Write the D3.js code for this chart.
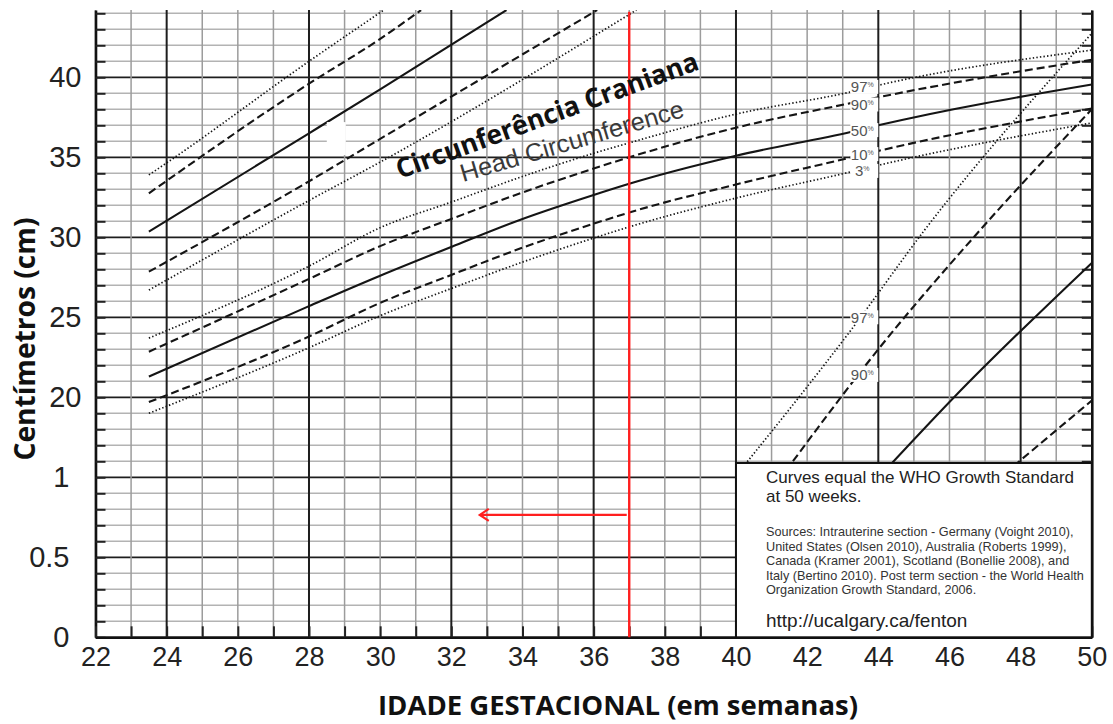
<!DOCTYPE html>
<html>
<head>
<meta charset="utf-8">
<script src="https://cdn.jsdelivr.net/npm/d3@7"></script>
<style>
  body { margin: 0; background: #fff; }
  svg { display: block; font-family: "Liberation Sans", Arial, sans-serif; }
</style>
</head>
<body>
<svg id="chart"></svg>
<script>
const fullWidth = 1113;
const fullHeight = 724;

// tick labels
const xTickWeeks = [22, 24, 26, 28, 30, 32, 34, 36, 38, 40, 42, 44, 46, 48, 50];
const yUpperTicks = [20, 25, 30, 35, 40];
const yLowerTicks = [5, 10, 15];          // where the 0 - 1 scale sits on the cm grid
const yLowerLabels = ["0", "0.5", "1"];

// head circumference (cm), preterm section joined to the WHO part
const hcWeeks = [23.5, 28, 30, 32, 34, 36, 37, 40, 43.25, 44, 50];
const hc97 = [23.7, 28.2, 30.6, 32.2, 33.8, 35.25, 35.9, 37.7, 39.1, 39.5, 41.7];
const hc90 = [22.85, 27.4, 29.45, 31.15, 32.8, 34.3, 35.0, 36.85, 38.4, 38.75, 41.1];
const hc50 = [21.3, 25.7, 27.6, 29.4, 31.15, 32.65, 33.35, 35.1, 36.6, 37.0, 39.55];
const hc10 = [19.7, 23.8, 25.9, 27.65, 29.35, 30.85, 31.55, 33.3, 35.0, 35.4, 38.05];
const hc3  = [19.0, 23.1, 25.1, 26.8, 28.45, 29.95, 30.65, 32.45, 34.1, 34.5, 37.15];

// length curves top left, they run off the top of the sheet
const len97 = [[23.5, 33.9], [24, 34.65], [28, 41.0], [30.1, 44.2]];
const len90 = [[23.5, 32.75], [28, 39.6], [30, 42.4], [31.15, 44.2]];
const len50 = [[23.5, 30.35], [28, 36.5], [30, 39.25], [33.55, 44.2]];
const len10 = [[23.5, 27.85], [28, 33.5], [30, 36.15], [36.1, 44.2]];
const len3  = [[23.5, 26.7], [28, 32.3], [30, 34.7], [37.2, 44.2]];

// steep curves on the right (start hidden under the note box)
const steep97 = [[40.0, 15.1], [43.3, 24.4], [45.3, 30.45], [50, 42.75]];
const steep90 = [[41.4, 15.4], [44.0, 23.0], [46.86, 30.45], [50, 38.0]];
const steep50 = [[44.2, 15.45], [46.15, 20.05], [50, 28.4]];
const steep10 = [[47.8, 15.7], [50, 19.8]];

// percentile labels
const hcLabelNames = ["97", "90", "50", "10", "3"];
const hcLabelValues = [39.4, 38.3, 36.7, 35.2, 34.15];
const steepLabelNames = ["97", "90"];
const steepLabelValues = [25.0, 21.4];
const labelWeek = 43.55;

// red marker at 37 weeks and the arrow (on the 0 - 1 scale)
const markWeek = 37;
const arrowStart = 36.93;
const arrowEnd = 32.8;
const arrowLevel = 0.765;

const noteLines = ["Curves equal the WHO Growth Standard", "at 50 weeks."];
const sourceLines = [
  "Sources: Intrauterine section - Germany (Voight 2010),",
  "United States (Olsen 2010), Australia (Roberts 1999),",
  "Canada (Kramer 2001), Scotland (Bonellie 2008), and",
  "Italy (Bertino 2010). Post term section - the World Health",
  "Organization Growth Standard, 2006."
];
const noteUrl = "http://ucalgary.ca/fenton";

const lowerToCm = d => 5 + d * 10;

const x = d3.scaleLinear().domain([22, 50]).range([95.5, 1091.8]);
const y = d3.scaleLinear().domain([5, 44.2]).range([637.3, 10.1]);

const svg = d3.select('#chart')
  .attr('width', fullWidth)
  .attr('height', fullHeight);

svg.append('rect').attr('width', fullWidth).attr('height', fullHeight).attr('fill', '#fff');

svg.append('clipPath').attr('id', 'plot')
  .append('rect')
  .attr('x', x(22)).attr('y', y(44.2))
  .attr('width', x(50) - x(22)).attr('height', y(5) - y(44.2));

// grid
const grid = svg.append('g');
const hLines = d3.range(5, 45).sort((a, b) => (a % 5 === 0) - (b % 5 === 0));
grid.selectAll('.h').data(hLines).join('line')
  .attr('x1', x(22)).attr('x2', x(50))
  .attr('y1', d => y(d)).attr('y2', d => y(d))
  .attr('stroke', d => d % 5 === 0 ? '#1e1e1e' : '#b3b3b3')
  .attr('stroke-width', d => d % 5 === 0 ? 1.8 : 1.5);

const vLines = d3.range(22, 51).sort((a, b) => (a % 4 === 0) - (b % 4 === 0));
grid.selectAll('.v').data(vLines).join('line')
  .attr('x1', d => x(d)).attr('x2', d => x(d))
  .attr('y1', y(44.2)).attr('y2', y(5))
  .attr('stroke', d => d % 4 === 0 ? '#1e1e1e' : '#9c9c9c')
  .attr('stroke-width', d => d % 4 === 0 ? 2 : 1.5);

// axes: inner ticks
svg.append('g')
  .attr('transform', `translate(${x(22)},0)`)
  .call(d3.axisLeft(y).tickValues(d3.range(5, 45)).tickSize(-10).tickSizeOuter(0).tickFormat(''))
  .call(g => g.selectAll('line').attr('stroke', '#222').attr('stroke-width', 2));

svg.append('g')
  .attr('transform', `translate(${x(50)},0)`)
  .call(d3.axisRight(y).tickValues(d3.range(5, 45)).tickSize(-10).tickSizeOuter(0).tickFormat(''))
  .call(g => g.selectAll('line').attr('stroke', '#222').attr('stroke-width', 2));

svg.append('g')
  .attr('transform', `translate(0,${y(5)})`)
  .call(d3.axisBottom(x).tickValues(d3.range(22, 51)).tickSize(-11).tickSizeOuter(0).tickFormat(''))
  .call(g => g.selectAll('line').attr('stroke', '#222').attr('stroke-width', 2));

svg.selectAll('.domain').attr('stroke', '#111').attr('stroke-width', 2.6);

// tick labels
svg.append('g')
  .attr('transform', `translate(0,${y(5)})`)
  .call(d3.axisBottom(x).tickValues(xTickWeeks).tickSize(0).tickPadding(10))
  .call(g => g.select('.domain').remove())
  .call(g => g.selectAll('text').attr('font-size', 27).attr('fill', '#222')
    .attr('font-family', '"Liberation Sans", Arial, sans-serif'));

svg.append('g')
  .attr('transform', `translate(${x(22)},0)`)
  .call(d3.axisLeft(y).tickValues(yUpperTicks).tickSize(0).tickPadding(14))
  .call(g => g.select('.domain').remove())
  .call(g => g.selectAll('text').attr('font-size', 29).attr('fill', '#222')
    .attr('font-family', '"Liberation Sans", Arial, sans-serif'));

svg.append('g')
  .attr('transform', `translate(${x(22)},0)`)
  .call(d3.axisLeft(y).tickValues(yLowerTicks).tickSize(0).tickPadding(26)
    .tickFormat((d, i) => yLowerLabels[i]))
  .call(g => g.select('.domain').remove())
  .call(g => g.selectAll('text').attr('font-size', 29).attr('fill', '#222')
    .attr('font-family', '"Liberation Sans", Arial, sans-serif'));

// curves
const line = d3.line()
  .x(d => x(d[0]))
  .y(d => y(d[1]))
  .curve(d3.curveMonotoneX);

const dashFor = { solid: null, dashed: '8,4', dotted: '1.4,2.2' };
const zip = vals => hcWeeks.map((w, i) => [w, vals[i]]);

const curves = [
  [zip(hc97), 'dotted'], [zip(hc90), 'dashed'], [zip(hc50), 'solid'], [zip(hc10), 'dashed'], [zip(hc3), 'dotted'],
  [len97, 'dotted'], [len90, 'dashed'], [len50, 'solid'], [len10, 'dashed'], [len3, 'dotted'],
  [steep97, 'dotted'], [steep90, 'dashed'], [steep50, 'solid'], [steep10, 'dashed']
];

svg.append('g')
  .attr('clip-path', 'url(#plot)')
  .selectAll('path').data(curves).join('path')
  .attr('d', d => line(d[0]))
  .attr('fill', 'none')
  .attr('stroke', '#151515')
  .attr('stroke-width', d => d[1] === 'dotted' ? 1.7 : 2.1)
  .attr('stroke-dasharray', d => dashFor[d[1]]);

// percentile labels with a white patch under them
const labels = hcLabelNames.map((n, i) => ({ name: n, v: hcLabelValues[i] }))
  .concat(steepLabelNames.map((n, i) => ({ name: n, v: steepLabelValues[i] })));

const lab = svg.append('g').selectAll('g').data(labels).join('g')
  .attr('transform', d => `translate(${x(labelWeek)},${y(d.v)})`);
lab.append('rect')
  .attr('x', -12).attr('y', -7).attr('width', 28).attr('height', 14)
  .attr('fill', '#fff');
const labText = lab.append('text')
  .attr('text-anchor', 'middle')
  .attr('dy', '0.36em')
  .attr('font-size', 15)
  .attr('fill', '#555');
labText.append('tspan').text(d => d.name);
labText.append('tspan').attr('font-size', 7).attr('dy', -5).text('%');

// erased patch near 29 weeks
svg.append('rect')
  .attr('x', x(28.5)).attr('y', y(37.2))
  .attr('width', 19).attr('height', 33)
  .attr('fill', '#fff');

// note box
const box = svg.append('g');
box.append('rect')
  .attr('x', x(40)).attr('y', 463)
  .attr('width', x(50) - x(40)).attr('height', y(5) - 463)
  .attr('fill', '#fff').attr('stroke', '#111').attr('stroke-width', 2);

box.selectAll('.note').data(noteLines).join('text')
  .attr('x', 766).attr('y', (d, i) => 483 + i * 18.5)
  .attr('font-size', 17).attr('fill', '#222')
  .text(d => d);

box.selectAll('.src').data(sourceLines).join('text')
  .attr('x', 766).attr('y', (d, i) => 536 + i * 14.5)
  .attr('font-size', 12.7).attr('fill', '#333')
  .text(d => d);

box.append('text')
  .attr('x', 766).attr('y', 627)
  .attr('font-size', 19).attr('fill', '#222')
  .text(noteUrl);

// red marker and arrow
const red = '#ff1f1f';
svg.append('line')
  .attr('x1', x(markWeek)).attr('x2', x(markWeek))
  .attr('y1', y(44.1)).attr('y2', y(5))
  .attr('stroke', red).attr('stroke-width', 2.4);

const ay = y(lowerToCm(arrowLevel));
svg.append('line')
  .attr('x1', x(arrowStart)).attr('x2', x(arrowEnd) + 1)
  .attr('y1', ay).attr('y2', ay)
  .attr('stroke', red).attr('stroke-width', 2.2);
svg.append('path')
  .attr('d', `M${x(arrowEnd) + 9},${ay - 6}L${x(arrowEnd)},${ay}L${x(arrowEnd) + 9},${ay + 6}`)
  .attr('fill', 'none').attr('stroke', red).attr('stroke-width', 2.2);

// titles
svg.append('text')
  .attr('x', 618).attr('y', 715)
  .attr('text-anchor', 'middle')
  .attr('font-family', '"Open Sans", sans-serif')
  .attr('font-weight', 700).attr('font-size', 27)
  .attr('textLength', 480).attr('lengthAdjust', 'spacingAndGlyphs')
  .attr('fill', '#111')
  .text('IDADE GESTACIONAL (em semanas)');

svg.append('text')
  .attr('transform', 'translate(35,339) rotate(-90)')
  .attr('text-anchor', 'middle')
  .attr('font-family', '"Open Sans", sans-serif')
  .attr('font-weight', 700).attr('font-size', 28)
  .attr('textLength', 243).attr('lengthAdjust', 'spacingAndGlyphs')
  .attr('fill', '#111')
  .text('Centímetros (cm)');

svg.append('text')
  .attr('transform', 'translate(400,179) rotate(-20.1)')
  .attr('font-family', '"Open Sans", sans-serif')
  .attr('font-weight', 700).attr('font-size', 27)
  .attr('textLength', 320).attr('lengthAdjust', 'spacingAndGlyphs')
  .attr('fill', '#111')
  .text('Circunferência Craniana');

svg.append('text')
  .attr('transform', 'translate(463,182) rotate(-16.4)')
  .attr('font-size', 25)
  .attr('textLength', 232).attr('lengthAdjust', 'spacingAndGlyphs')
  .attr('fill', '#3a3a3a')
  .text('Head Circumference');
</script>
</body>
</html>
